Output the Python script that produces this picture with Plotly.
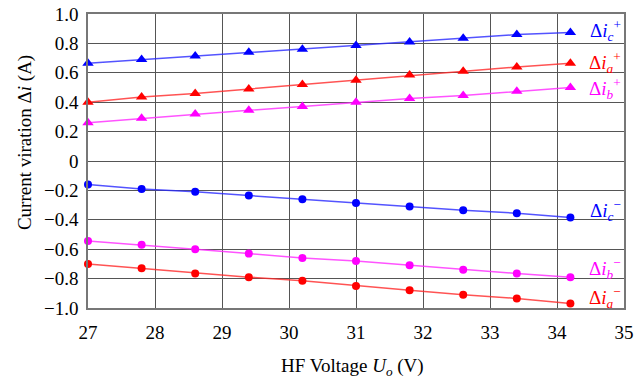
import plotly.graph_objects as go

voltage = [27.0, 27.8, 28.6, 29.4, 30.2, 31.0, 31.8, 32.6, 33.4, 34.2]

ic_pos = [0.665, 0.69, 0.715, 0.74, 0.76, 0.785, 0.81, 0.835, 0.86, 0.875]
ia_pos = [0.40, 0.435, 0.46, 0.49, 0.52, 0.55, 0.585, 0.61, 0.64, 0.665]
ib_pos = [0.26, 0.29, 0.32, 0.345, 0.37, 0.40, 0.425, 0.445, 0.475, 0.50]
ic_neg = [-0.16, -0.19, -0.21, -0.235, -0.26, -0.285, -0.31, -0.335, -0.355, -0.385]
ib_neg = [-0.545, -0.57, -0.60, -0.63, -0.66, -0.68, -0.71, -0.74, -0.765, -0.79]
ia_neg = [-0.70, -0.73, -0.765, -0.79, -0.815, -0.85, -0.88, -0.91, -0.935, -0.97]

y_ticks = [1.0, 0.8, 0.6, 0.4, 0.2, 0, -0.2, -0.4, -0.6, -0.8, -1.0]
y_ticktext = ["1.0", "0.8", "0.6", "0.4", "0.2", "0", "\u22120.2", "\u22120.4", "\u22120.6", "\u22120.8", "\u22121.0"]
x_ticks = [27, 28, 29, 30, 31, 32, 33, 34, 35]

FONT = "Liberation Serif"

series = [
    (ic_pos, "#0000ff", "rgba(40,40,255,0.8)", "triangle-up", "\u0394<i>i<sub>c</sub></i><sup>+</sup>", 0.89),
    (ia_pos, "#ff0000", "rgba(255,40,40,0.8)", "triangle-up", "\u0394<i>i<sub>a</sub></i><sup>+</sup>", 0.67),
    (ib_pos, "#ff00ff", "rgba(255,40,255,0.8)", "triangle-up", "\u0394<i>i<sub>b</sub></i><sup>+</sup>", 0.49),
    (ic_neg, "#0000ff", "rgba(40,40,255,0.8)", "circle", "\u0394<i>i<sub>c</sub></i><sup>\u2212</sup>", -0.34),
    (ib_neg, "#ff00ff", "rgba(255,40,255,0.8)", "circle", "\u0394<i>i<sub>b</sub></i><sup>\u2212</sup>", -0.73),
    (ia_neg, "#ff0000", "rgba(255,40,40,0.8)", "circle", "\u0394<i>i<sub>a</sub></i><sup>\u2212</sup>", -0.93),
]

fig = go.Figure()
annotations = []
for vals, mcol, lcol, sym, label, ly in series:
    fig.add_trace(go.Scatter(
        x=voltage, y=vals, mode="lines+markers",
        line=dict(color=lcol, width=1.5),
        marker=dict(symbol=sym, color=mcol, size=8 if sym == "circle" else 10),
        showlegend=False, cliponaxis=False,
    ))
    annotations.append(dict(
        x=34.72, y=ly, xref="x", yref="y", text=label, showarrow=False,
        font=dict(family=FONT, size=19, color=mcol),
    ))

# axis titles
annotations.append(dict(
    x=0.494, y=-0.2, xref="paper", yref="paper", xanchor="center", yanchor="middle",
    text="HF Voltage <i>U<sub>o</sub></i> (V)", showarrow=False,
    font=dict(family=FONT, size=19, color="black"),
))
annotations.append(dict(
    x=-0.1175, y=0.561, xref="paper", yref="paper", xanchor="center", yanchor="middle",
    text="Current viration \u0394<i>i</i> (A)", showarrow=False, textangle=-90,
    font=dict(family=FONT, size=19, color="black"),
))

grid_col = "#555555"
tickfont = dict(family=FONT, size=19, color="black")
fig.update_layout(
    width=644, height=379,
    margin=dict(l=88, r=20, t=14, b=71, autoexpand=False),
    paper_bgcolor="white", plot_bgcolor="white",
    font=dict(family=FONT, size=19, color="black"),
    annotations=annotations,
    xaxis=dict(
        range=[27, 35], tickvals=x_ticks, showgrid=True, gridcolor=grid_col, gridwidth=1.3,
        showline=True, linecolor="#777777", linewidth=1.5, mirror=True, ticks="",
        zeroline=False, automargin=False, tickfont=tickfont,
        ticklabeloverflow="allow", ticklabelstandoff=6,
    ),
    yaxis=dict(
        range=[-1.0, 1.0], tickvals=y_ticks, ticktext=y_ticktext, showgrid=True,
        gridcolor=grid_col, gridwidth=1.3,
        showline=True, linecolor="#777777", linewidth=1.5, mirror=True, ticks="",
        zeroline=False, automargin=False, tickfont=tickfont,
        ticklabeloverflow="allow", ticklabelstandoff=4,
    ),
)

fig.write_html(
    "out.html",
    config={"displayModeBar": False},
    post_script="document.body.style.margin='0';document.body.style.overflow='hidden';",
)
